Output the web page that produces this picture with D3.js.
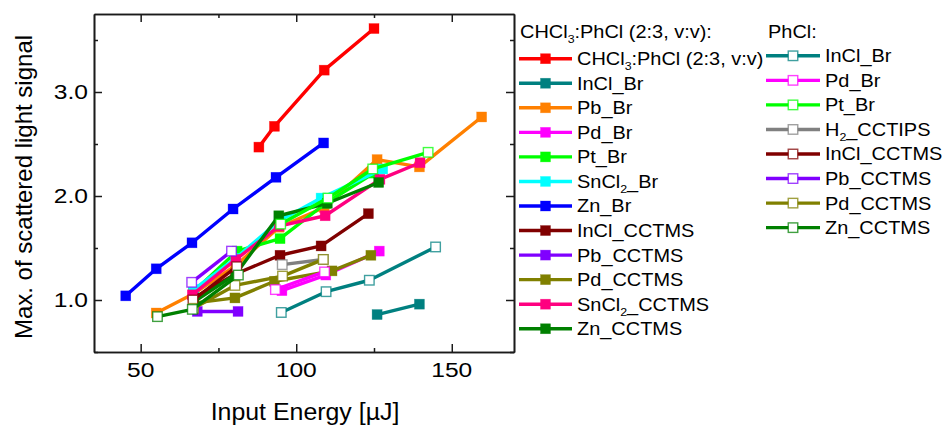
<!DOCTYPE html>
<html>
<head>
<meta charset="utf-8">
<script src="https://cdn.jsdelivr.net/npm/d3@7/dist/d3.min.js"></script>
<style>
  html, body { margin: 0; padding: 0; background: #fff; }
  svg { display: block; font-family: "Liberation Sans", Arial, sans-serif; }
</style>
</head>
<body>
<svg id="chart" width="944" height="427"></svg>
<script>
// ---- axis ticks ----
const xMajorTicks = [50, 100, 150];
const xMinorTicks = [75, 125];
const yMajorTicks = [1.0, 2.0, 3.0];
const yMinorTicks = [0.5, 1.5, 2.5, 3.5];
const xTickLabels = ["50", "100", "150"];
const yTickLabels = ["1.0", "2.0", "3.0"];

// ---- CHCl3:PhCl (2:3, v:v) solvent: input energy [µJ] / max. scattered light signal ----
const mixPureE = [88, 93, 109, 125];
const mixPureS = [2.47, 2.67, 3.21, 3.61];
const mixInClBrE = [126, 139.6];
const mixInClBrS = [0.86, 0.96];
const mixPbBrE = [55, 67, 80.5, 94.5, 109, 126, 139.6, 159.6];
const mixPbBrS = [0.875, 1.06, 1.33, 1.70, 1.89, 2.35, 2.28, 2.76];
const mixPdBrE = [95.4, 109.5, 126.7];
const mixPdBrS = [1.09, 1.24, 1.47];
const mixPtBrE = [67, 81, 94.8, 109.5, 125];
const mixPtBrS = [1.08, 1.47, 1.59, 1.93, 2.22];
const mixSnCl2BrE = [67, 80.5, 94.5, 108, 127.8];
const mixSnCl2BrS = [1.10, 1.40, 1.76, 1.98, 2.26];
const mixZnBrE = [45.2, 55, 66.5, 79.7, 93.5, 108.8];
const mixZnBrS = [1.04, 1.30, 1.55, 1.875, 2.18, 2.51];
const mixInClCctmsE = [67, 80.5, 94.8, 108, 123.2];
const mixInClCctmsS = [1.02, 1.25, 1.43, 1.52, 1.83];
const mixPbCctmsE = [68.2, 81.3];
const mixPbCctmsS = [0.89, 0.89];
const mixPdCctmsE = [67, 80.3, 93, 111.5, 124];
const mixPdCctmsS = [0.97, 1.02, 1.18, 1.28, 1.43];
const mixSnCl2CctmsE = [66.6, 80.6, 94.5, 109.3, 126.9, 139.8];
const mixSnCl2CctmsS = [1.05, 1.39, 1.71, 1.81, 2.16, 2.32];
const mixZnCctmsE = [67, 80.6, 94.4, 110, 126.5];
const mixZnCctmsS = [0.98, 1.25, 1.81, 1.93, 2.13];

// ---- PhCl solvent ----
const phInClBrE = [95.2, 109.6, 123.5, 144.8];
const phInClBrS = [0.88, 1.08, 1.19, 1.51];
const phPdBrE = [93.3, 109.1];
const phPdBrS = [1.10, 1.27];
const phPtBrE = [95, 110.2, 124.6, 142.4];
const phPtBrS = [1.73, 1.98, 2.26, 2.42];
const phH2CctipsE = [95.5, 108.7];
const phH2CctipsS = [1.34, 1.39];
const phInClCctmsE = [66.8, 80.9];
const phInClCctmsS = [1.00, 1.32];
const phPbCctmsE = [66.4, 79.2];
const phPbCctmsS = [1.17, 1.47];
const phPdCctmsE = [67, 80.3, 95.6, 108.7];
const phPdCctmsS = [0.92, 1.14, 1.23, 1.39];
const phZnCctmsE = [55.4, 66.6, 81.4];
const phZnCctmsS = [0.84, 0.91, 1.24];

// legend labels: [main, subscript, rest]
const mixNames = [
  ["CHCl", "3", ":PhCl (2:3, v:v)"], ["InCl_Br"], ["Pb_Br"], ["Pd_Br"], ["Pt_Br"],
  ["SnCl", "2", "_Br"], ["Zn_Br"], ["InCl_CCTMS"], ["Pb_CCTMS"], ["Pd_CCTMS"],
  ["SnCl", "2", "_CCTMS"], ["Zn_CCTMS"]
];
const phNames = [
  ["InCl_Br"], ["Pd_Br"], ["Pt_Br"], ["H", "2", "_CCTIPS"], ["InCl_CCTMS"],
  ["Pb_CCTMS"], ["Pd_CCTMS"], ["Zn_CCTMS"]
];

// ---- styling ----
const mixColors = ["#ff0000", "#008080", "#ff8000", "#ff00ff", "#00ff00", "#00ffff",
                   "#0000ff", "#800000", "#8000ff", "#808000", "#ff0080", "#008000"];
const phColors = ["#008080", "#ff00ff", "#00ff00", "#808080", "#800000",
                  "#8000ff", "#808000", "#008000"];

const mixE = [mixPureE, mixInClBrE, mixPbBrE, mixPdBrE, mixPtBrE, mixSnCl2BrE, mixZnBrE,
              mixInClCctmsE, mixPbCctmsE, mixPdCctmsE, mixSnCl2CctmsE, mixZnCctmsE];
const mixS = [mixPureS, mixInClBrS, mixPbBrS, mixPdBrS, mixPtBrS, mixSnCl2BrS, mixZnBrS,
              mixInClCctmsS, mixPbCctmsS, mixPdCctmsS, mixSnCl2CctmsS, mixZnCctmsS];
const phE = [phInClBrE, phPdBrE, phPtBrE, phH2CctipsE, phInClCctmsE, phPbCctmsE, phPdCctmsE, phZnCctmsE];
const phS = [phInClBrS, phPdBrS, phPtBrS, phH2CctipsS, phInClCctmsS, phPbCctmsS, phPdCctmsS, phZnCctmsS];

const series = [];
mixNames.forEach((n, i) => series.push({ name: n, color: mixColors[i], open: false,
  pts: mixE[i].map((e, k) => [e, mixS[i][k]]) }));
phNames.forEach((n, i) => series.push({ name: n, color: phColors[i], open: true,
  pts: phE[i].map((e, k) => [e, phS[i][k]]) }));

// ---- layout ----
const svg = d3.select("#chart");
const plot = { left: 94, right: 514, top: 14, bottom: 352 };
const x = d3.scaleLinear().domain([35, 170]).range([plot.left, plot.right]);
const y = d3.scaleLinear().domain([0.5, 3.75]).range([plot.bottom, plot.top]);

const lineW = 3.4, markF = 10, markO = 9.5;

// series lines and markers (filled first, open on top)
const line = d3.line().x(d => x(d[0])).y(d => y(d[1]));
const gData = svg.append("g");
series.forEach(s => {
  const g = gData.append("g");
  g.append("path").attr("d", line(s.pts)).attr("fill", "none")
    .attr("stroke", s.color).attr("stroke-width", lineW).attr("stroke-linejoin", "round");
  g.selectAll("rect").data(s.pts).join("rect")
    .attr("x", d => x(d[0]) - (s.open ? markO : markF) / 2)
    .attr("y", d => y(d[1]) - (s.open ? markO : markF) / 2)
    .attr("width", s.open ? markO : markF).attr("height", s.open ? markO : markF)
    .attr("fill", s.open ? "#fff" : s.color)
    .attr("stroke", s.color).attr("stroke-width", s.open ? 1.4 : 0.6)
    .attr("stroke-opacity", s.open ? 0.75 : 0.5);
});

// ---- axes (ticks point inward, box on all sides) ----
const axisCol = "#1a1a1a";
function styleAxis(g) {
  g.selectAll("path.domain").attr("stroke", axisCol).attr("stroke-width", 1.6);
  g.selectAll(".tick line").attr("stroke", axisCol).attr("stroke-width", 1.5);
  g.selectAll(".tick text").remove();
}
const axes = svg.append("g");
[[d3.axisBottom(x), `translate(0,${plot.bottom})`, xMajorTicks, xMinorTicks],
 [d3.axisTop(x), `translate(0,${plot.top})`, xMajorTicks, xMinorTicks],
 [d3.axisLeft(y), `translate(${plot.left},0)`, yMajorTicks, yMinorTicks],
 [d3.axisRight(y), `translate(${plot.right},0)`, yMajorTicks, yMinorTicks]
].forEach(([ax, tr, major, minor]) => {
  axes.append("g").attr("transform", tr)
    .call(ax.tickValues(major).tickSizeInner(-8).tickSizeOuter(0)).call(styleAxis);
  axes.append("g").attr("transform", tr)
    .call(ax.tickValues(minor).tickSizeInner(-4).tickSizeOuter(0)).call(styleAxis);
});

// tick labels (glyphs drawn slightly wide)
const tickFont = 20.5, tickStretch = 1.2;
xMajorTicks.forEach((v, i) => {
  svg.append("text").attr("transform", `translate(${x(v)},377) scale(${tickStretch},1)`)
    .attr("text-anchor", "middle").attr("font-size", tickFont).attr("fill", "#000")
    .text(xTickLabels[i]);
});
yMajorTicks.forEach((v, i) => {
  svg.append("text").attr("transform", `translate(88,${y(v) + 7.3}) scale(${tickStretch},1)`)
    .attr("text-anchor", "end").attr("font-size", tickFont).attr("fill", "#000")
    .text(yTickLabels[i]);
});

// axis titles
svg.append("text").attr("transform", "translate(305,420) scale(1.06,1)").attr("text-anchor", "middle")
  .attr("font-size", 23.5).attr("fill", "#000").text("Input Energy [µJ]");
svg.append("text").attr("transform", "translate(32,187) rotate(-90)")
  .attr("text-anchor", "middle").attr("font-size", 24).attr("fill", "#000")
  .text("Max. of scattered light signal");

// ---- legend ----
const legFont = 17.5, legStretch = 1.14, legStep = 24.55;
function richText(sel, parts) {
  sel.append("tspan").text(parts[0]);
  if (parts.length > 1) {
    sel.append("tspan").attr("dy", 5).attr("font-size", legFont * 0.62).text(parts[1]);
    sel.append("tspan").attr("dy", -5).text(parts[2]);
  }
}
function legendTitle(xp, yp, parts) {
  const t = svg.append("text").attr("transform", `translate(${xp},${yp}) scale(${legStretch},1)`)
    .attr("font-size", legFont).attr("fill", "#000");
  richText(t, parts);
}
function legendColumn(items, x0, x1, textX, y0) {
  items.forEach((s, i) => {
    const yy = y0 + i * legStep;
    const g = svg.append("g");
    g.append("line").attr("x1", x0).attr("x2", x1).attr("y1", yy).attr("y2", yy)
      .attr("stroke", s.color).attr("stroke-width", lineW);
    const m = s.open ? markO : markF;
    g.append("rect").attr("x", (x0 + x1) / 2 - m / 2).attr("y", yy - m / 2)
      .attr("width", m).attr("height", m)
      .attr("fill", s.open ? "#fff" : s.color).attr("stroke", s.color)
      .attr("stroke-width", s.open ? 1.4 : 0.6).attr("stroke-opacity", s.open ? 0.75 : 0.5);
    const t = g.append("text")
      .attr("transform", `translate(${textX},${yy + 6.4}) scale(${legStretch},1)`)
      .attr("font-size", legFont).attr("fill", "#000");
    richText(t, s.name);
  });
}
legendTitle(520, 37.5, ["CHCl", "3", ":PhCl (2:3, v:v):"]);
legendTitle(768, 37.5, ["PhCl:"]);
legendColumn(series.filter(s => !s.open), 519, 572, 577, 58.7);
legendColumn(series.filter(s => s.open), 766, 820, 825, 55.8);
</script>
</body>
</html>
